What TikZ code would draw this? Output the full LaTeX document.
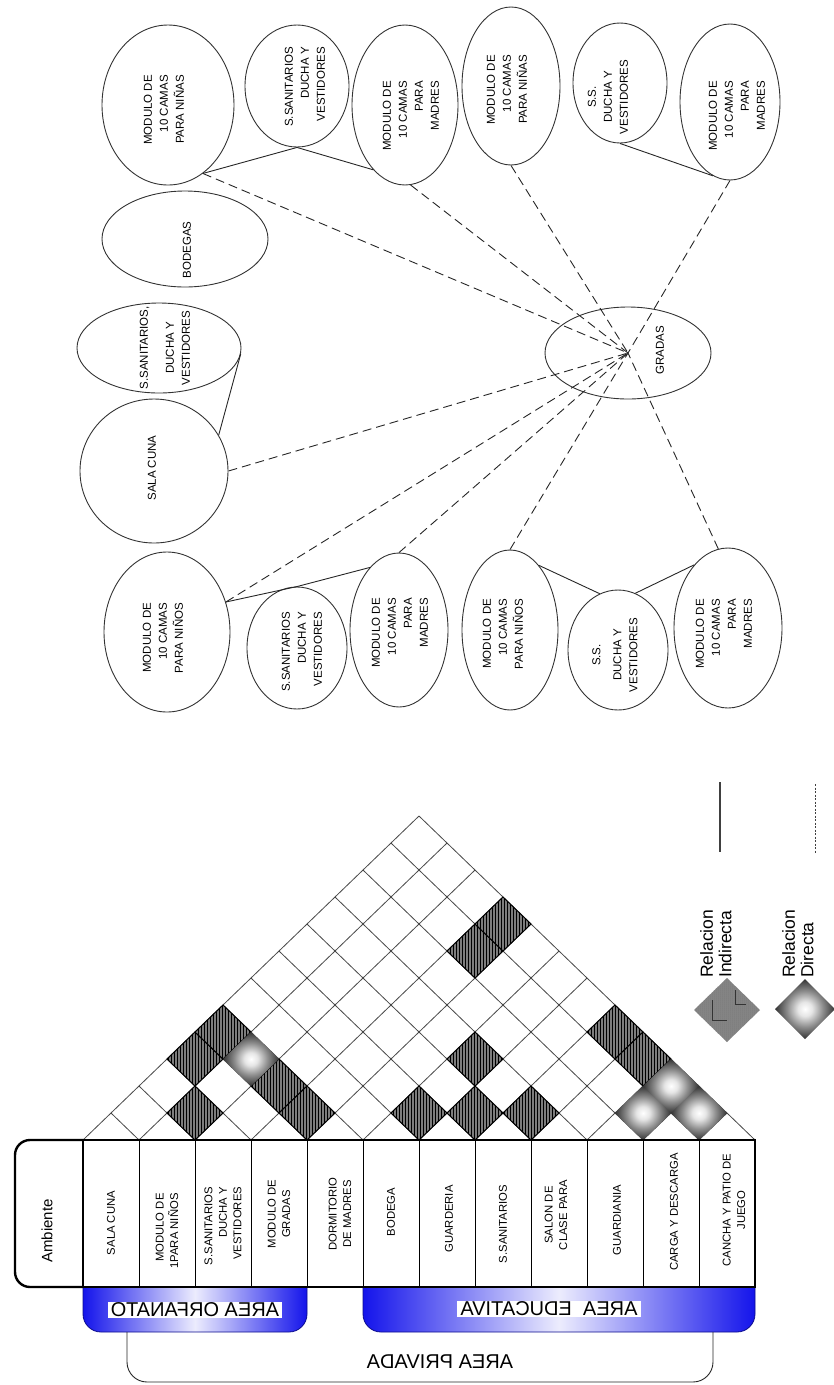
\documentclass[tikz,border=0pt]{standalone}
\usepackage{fontspec}
\setmainfont{Liberation Sans}
\usetikzlibrary{shapes.geometric,patterns.meta}
\definecolor{tabblue}{RGB}{20,20,235}
\definecolor{hatchgray}{RGB}{125,125,125}
\pgfdeclareradialshading{sphshade}{\pgfpoint{0bp}{0bp}}{color(0bp)=(white); color(6bp)=(white!90!black); color(15bp)=(black!45); color(25bp)=(black!80); color(33bp)=(black); color(50bp)=(black)}
\tikzset{
  ell/.style={draw=black!80, line width=0.9pt, ellipse, inner sep=0pt},
  etext/.style={rotate=90, font=\fontsize{11.5}{16}\selectfont, inner sep=0pt, align=right},
  ttext/.style={rotate=90, font=\fontsize{11.3}{14.5}\selectfont, inner sep=0pt, align=center},
  solidlink/.style={draw=black!85, line width=0.9pt},
  dashlink/.style={draw=black!85, line width=0.9pt, dash pattern=on 9pt off 5pt},
  gridline/.style={draw=black!72, line width=0.8pt},
  hatchcell/.style={fill=hatchgray, draw=black, line width=1pt, postaction={pattern={Lines[angle=90,distance=3pt,line width=0.8pt]}, pattern color=black}},
  leghatch/.style={fill={rgb,255:red,135;green,135;blue,135}, postaction={pattern={Dots[distance=2pt,radius=0.5pt]}, pattern color=black!60}},
  sphcell/.style={shading=sphshade},
  tabbox/.style={left color=tabblue, right color=tabblue, middle color=white!92!tabblue, draw=tabblue!60!black, line width=0.8pt},
  mirtext/.style={xscale=-1, fill=white, font=\fontsize{20}{22}\selectfont, inner xsep=3pt, inner ysep=1pt},
  legtext/.style={rotate=90, font=\fontsize{17.5}{18.5}\selectfont, inner sep=0pt, align=left, anchor=north west}
}
\begin{document}
\begin{tikzpicture}[x=1pt,y=-1pt]
\useasboundingbox (0,0) rectangle (834,1385);

% ---------------- bubble diagram ----------------
\node[ell, minimum width=132, minimum height=160] (E1) at (168,105) {};
\node[ell, minimum width=104, minimum height=122] (E2) at (297,86) {};
\node[ell, minimum width=106, minimum height=160] (E3) at (405,105) {};
\node[ell, minimum width=166, minimum height=96] (E4) at (185,239) {};
\node[ell, minimum width=98, minimum height=158] (E5) at (511,86) {};
\node[ell, minimum width=94, minimum height=120] (E6) at (620,83) {};
\node[ell, minimum width=100, minimum height=156] (E7) at (730,102) {};
\node[ell, minimum width=166, minimum height=92] (G) at (628,353) {};
\node[ell, minimum width=164, minimum height=90] (E8) at (159,348) {};
\node[ell, minimum width=148, minimum height=144] (E9) at (154,471) {};
\node[ell, minimum width=126, minimum height=160] (E10) at (167,632) {};
\node[ell, minimum width=100, minimum height=122] (E11) at (297,648) {};
\node[ell, minimum width=98, minimum height=154] (E12) at (399,630) {};
\node[ell, minimum width=96, minimum height=160] (E13) at (510,630) {};
\node[ell, minimum width=100, minimum height=120] (E14) at (618,650) {};
\node[ell, minimum width=108, minimum height=160] (E15) at (728,628) {};

\node[etext] (T1) at (164,110) {MODULO DE\\10 CAMAS\\PARA NIÑAS};
\node[etext] (T2) at (305,87) {S.SANITARIOS\\DUCHA Y\\VESTIDORES};
\node[etext] (T3) at (411,116) {MODULO DE\\10 CAMAS\\PARA\\MADRES};
\node[etext] (T4) at (187,250) {BODEGAS};
\node[etext] (T5) at (507,90) {MODULO DE\\10 CAMAS\\PARA NIÑAS};
\node[etext, align=center] (T6) at (608,97) {S.S.\\DUCHA Y\\VESTIDORES};
\node[etext] (T7) at (737,116) {MODULO DE\\10 CAMAS\\PARA\\MADRES};
\node[etext] (TG) at (660,350) {GRADAS};
\node[etext, align=center] (T8) at (165,348) {S.SANITARIOS,\\[10pt]DUCHA Y\\VESTIDORES};
\node[etext] (T9) at (152,468) {SALA CUNA};
\node[etext] (T10) at (163,638) {MODULO DE\\10 CAMAS\\PARA NIÑOS};
\node[etext] (T11) at (302,652) {S.SANITARIOS\\DUCHA Y\\VESTIDORES};
\node[etext] (T12) at (400,633) {MODULO DE\\10 CAMAS\\PARA\\MADRES};
\node[etext] (T13) at (503,634) {MODULO DE\\10 CAMAS\\PARA NIÑOS};
\node[etext, align=center] (T14) at (615,655) {S.S.\\[5pt]DUCHA Y\\VESTIDORES};
\node[etext] (T15) at (724,634) {MODULO DE\\10 CAMAS\\PARA\\MADRES};

% solid links
\draw[solidlink] (E1.-63) -- (E2.south);
\draw[solidlink] (E2.south) -- (E3.-116);
\draw[solidlink] (E6.south) -- (E7.-103);
\draw[solidlink] (E9.29) -- (E8.-4);
\draw[solidlink] (E10.27) -- (E11.north);
\draw[solidlink] (E11.north) -- (E12.115);
\draw[solidlink] (E13.66) -- (E14.108);
\draw[solidlink] (E14.73) -- (E15.118);

% dashed links to GRADAS
\draw[dashlink] (E1.-63) -- (G.center);
\draw[dashlink] (E3.-86) -- (G.center);
\draw[dashlink] (E5.south) -- (G.center);
\draw[dashlink] (E7.south) -- (G.center);
\draw[dashlink] (E9.east) -- (G.center);
\draw[dashlink] (E10.27) -- (G.center);
\draw[dashlink] (E12.north) -- (G.center);
\draw[dashlink] (E13.north) -- (G.center);
\draw[dashlink] (E15.97) -- (G.center);

% ---------------- relation matrix ----------------
\foreach \k in {0,...,12} {
  \pgfmathsetmacro\bx{83+56*\k}
  \draw[gridline] (\bx,1140) -- ({(\bx+755)/2},{1140-27/28*(755-\bx)/2});
  \draw[gridline] (\bx,1140) -- ({(\bx+83)/2},{1140-27/28*(\bx-83)/2});
}
\foreach \i/\j in {0/3,0/4,1/2,2/4,3/4,3/10,3/11,5/6,5/8,6/7,7/8,7/11,8/11} {
  \pgfmathsetmacro\cx{111+28*(\i+\j)}
  \pgfmathsetmacro\cy{1140-27*(\j-\i)}
  \path[hatchcell] (\cx-28,\cy) -- (\cx,\cy-27) -- (\cx+28,\cy) -- (\cx,\cy+27) -- cycle;
}
\foreach \i/\j in {1/4,9/10,9/11,10/11} {
  \pgfmathsetmacro\cx{111+28*(\i+\j)}
  \pgfmathsetmacro\cy{1140-27*(\j-\i)}
  \shade[sphcell] (\cx-28,\cy) -- (\cx,\cy-27) -- (\cx+28,\cy) -- (\cx,\cy+27) -- cycle;
}

% ---------------- tabs ----------------
\path[tabbox, rounded corners=18] (83,1287) -- (83,1332) -- (307,1332) -- (307,1287);
\path[tabbox, rounded corners=18] (363,1287) -- (363,1332) -- (755,1332) -- (755,1287);
\node[mirtext] (LO) at (195,1310) {AREA ORFANATO};
\node[mirtext] (LE) at (549,1309) {AREA\ \ EDUCATIVA};

% bracket AREA PRIVADA
\draw[black!85, line width=0.9pt, rounded corners=20] (127,1332) -- (127,1382) -- (713,1382) -- (713,1332);
\node[xscale=-1, font=\fontsize{20}{22}\selectfont, inner sep=0pt] (LP) at (440,1362) {AREA PRIVADA};

% ---------------- table ----------------
\fill[white] (83,1140) rectangle (755,1287);
\foreach \k in {1,...,11} {
  \draw[black, line width=0.9pt] (83+56*\k,1140) -- (83+56*\k,1287);
}
\draw[black, line width=2.4pt] (83,1140) -- (755,1140) -- (755,1287) -- (83,1287);
\draw[black, line width=2.4pt, rounded corners=15] (83,1140) -- (15,1140) -- (15,1287) -- (83,1287);
\draw[black, line width=2pt] (83,1140) -- (83,1287);

\node[rotate=90, font=\fontsize{15}{17}\selectfont, inner sep=0pt] (AMB) at (47,1231) {Ambiente};
\node[ttext] (C0) at (111,1223) {SALA CUNA};
\node[ttext, align=right] (C1) at (167,1231) {MODULO DE\\1PARA NIÑOS};
\node[ttext, align=right] (C2) at (223,1226) {S.SANITARIOS\\DUCHA Y\\VESTIDORES};
\node[ttext] (C3) at (279,1214) {MODULO DE\\GRADAS};
\node[ttext] (C4) at (340,1214) {DORMITORIO\\DE MADRES};
\node[ttext] (C5) at (391,1212) {BODEGA};
\node[ttext] (C6) at (449,1219) {GUARDERIA};
\node[ttext] (C7) at (503,1224) {S.SANITARIOS};
\node[ttext] (C8) at (556,1215) {SALON DE\\CLASE PARA};
\node[ttext] (C9) at (617,1220) {GUARDIANIA};
\node[ttext] (C10) at (674,1212) {CARGA Y DESCARGA};
\node[ttext] (C11) at (734,1210) {CANCHA Y PATIO DE\\JUEGO};

% ---------------- legend ----------------
\path[leghatch] (694,1010) -- (727,978) -- (760,1010) -- (727,1042) -- cycle;
\draw[black!80, line width=0.8pt] (712,1000) -- (712,1020) -- (727,1020);
\draw[black!80, line width=0.8pt] (735,990) -- (735,1004) -- (746,1004);
\shade[sphcell] (775,1009) -- (805,979) -- (835,1009) -- (805,1039) -- cycle;
\node[legtext] (R1) at (700,978) {Relacion\\Indirecta};
\node[legtext] (R2) at (782,978) {Relacion\\Directa};
\coordinate (L1a) at (720,782);
\coordinate (L1b) at (720,852);
\coordinate (L2a) at (815,784);
\coordinate (L2b) at (815,853);
\draw[black!75, line width=1.4pt] (L1a) -- (L1b);
\draw[black!75, line width=0.9pt, dash pattern=on 2pt off 1.5pt] (L2a) -- (L2b);
\end{tikzpicture}
\end{document}
